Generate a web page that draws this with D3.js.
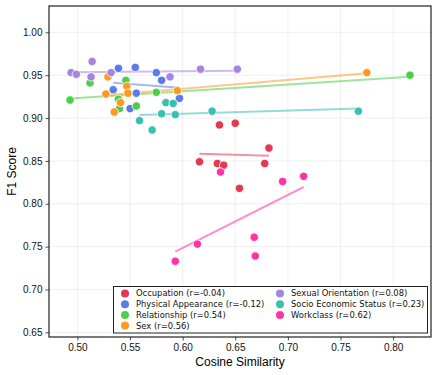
<!DOCTYPE html>
<html>
<head>
<meta charset="utf-8">
<script src="https://cdn.jsdelivr.net/npm/d3@7"></script>
<style>
  body { margin: 0; background: #fff; }
  .tick text { font-family: "Liberation Sans", Arial, sans-serif; font-size: 10px; fill: #111; }
</style>
</head>
<body>
<div id="chart"></div>
<script>
// groups, in legend order
var groups = ["Occupation", "Physical Appearance", "Relationship", "Sex",
              "Sexual Orientation", "Socio Economic Status", "Workclass"];
var rValues = ["-0.04", "-0.12", "0.54", "0.56", "0.08", "0.23", "0.62"];
var colors = ["#e23a52", "#5b7be8", "#4ccf48", "#fe9a20", "#a585e0", "#3bbfb2", "#fd35a4"];

// cosine similarity (x) and F1 (y) per group
var occupationX = [0.635, 0.650, 0.682, 0.616, 0.633, 0.639, 0.678, 0.654];
var occupationY = [0.892, 0.894, 0.865, 0.849, 0.847, 0.845, 0.847, 0.818];
var physicalX = [0.539, 0.555, 0.575, 0.580, 0.534, 0.556, 0.550, 0.597];
var physicalY = [0.958, 0.959, 0.953, 0.944, 0.933, 0.929, 0.911, 0.923];
var relationshipX = [0.493, 0.512, 0.546, 0.539, 0.540, 0.556, 0.575, 0.816];
var relationshipY = [0.921, 0.941, 0.944, 0.922, 0.911, 0.914, 0.930, 0.950];
var sexX = [0.529, 0.527, 0.547, 0.548, 0.541, 0.535, 0.595, 0.775];
var sexY = [0.948, 0.928, 0.937, 0.929, 0.918, 0.907, 0.932, 0.953];
var orientationX = [0.494, 0.499, 0.514, 0.513, 0.532, 0.588, 0.617, 0.652];
var orientationY = [0.953, 0.951, 0.966, 0.948, 0.953, 0.948, 0.957, 0.957];
var socioX = [0.559, 0.571, 0.580, 0.593, 0.584, 0.591, 0.628, 0.767];
var socioY = [0.897, 0.886, 0.905, 0.904, 0.918, 0.917, 0.908, 0.908];
var workclassX = [0.636, 0.695, 0.715, 0.614, 0.593, 0.668, 0.669];
var workclassY = [0.837, 0.826, 0.832, 0.753, 0.733, 0.761, 0.739];

var allX = [occupationX, physicalX, relationshipX, sexX, orientationX, socioX, workclassX];
var allY = [occupationY, physicalY, relationshipY, sexY, orientationY, socioY, workclassY];

var xTicks = [0.50, 0.55, 0.60, 0.65, 0.70, 0.75, 0.80];
var yTicks = [0.65, 0.70, 0.75, 0.80, 0.85, 0.90, 0.95, 1.00];

var W = 438, H = 375;
var margin = {left: 49, right: 7, top: 6, bottom: 38};
var width = W - margin.left - margin.right,
    height = H - margin.top - margin.bottom;

var svg = d3.select("#chart").append("svg")
    .attr("width", W).attr("height", H);
var g = svg.append("g")
    .attr("transform", "translate(" + margin.left + "," + margin.top + ")");

var x = d3.scaleLinear().domain([0.473, 0.836]).range([0, width]);
var y = d3.scaleLinear().domain([0.6446, 1.0307]).range([height, 0]);

// grid
g.append("g").selectAll("line").data(xTicks).enter().append("line")
    .attr("x1", d => x(d)).attr("x2", d => x(d))
    .attr("y1", 0).attr("y2", height)
    .attr("stroke", "#ebebeb").attr("stroke-width", 0.8);
g.append("g").selectAll("line").data(yTicks).enter().append("line")
    .attr("y1", d => y(d)).attr("y2", d => y(d))
    .attr("x1", 0).attr("x2", width)
    .attr("stroke", "#ebebeb").attr("stroke-width", 0.8);

// axes
var xAxis = g.append("g")
    .attr("transform", "translate(0," + height + ")")
    .call(d3.axisBottom(x).tickValues(xTicks).tickFormat(d3.format(".2f")).tickSize(3.5).tickPadding(3));
var yAxis = g.append("g")
    .call(d3.axisLeft(y).tickValues(yTicks).tickFormat(d3.format(".2f")).tickSize(3.5).tickPadding(3));
xAxis.select(".domain").remove();
yAxis.select(".domain").remove();
svg.selectAll(".tick line").attr("stroke", "#222").attr("stroke-width", 0.8);

// regression lines (least squares over each group's x range)
function fit(xs, ys) {
    var mx = d3.mean(xs), my = d3.mean(ys);
    var sxy = d3.sum(xs, (v, i) => (v - mx) * (ys[i] - my));
    var sxx = d3.sum(xs, v => (v - mx) * (v - mx));
    var b = sxy / sxx, a = my - b * mx;
    var x0 = d3.min(xs), x1 = d3.max(xs);
    return [[x0, a + b * x0], [x1, a + b * x1]];
}

groups.forEach(function (name, i) {
    var seg = fit(allX[i], allY[i]);
    g.append("line")
        .attr("x1", x(seg[0][0])).attr("y1", y(seg[0][1]))
        .attr("x2", x(seg[1][0])).attr("y2", y(seg[1][1]))
        .attr("stroke", colors[i]).attr("stroke-opacity", 0.55)
        .attr("stroke-width", 2);
});

// points
groups.forEach(function (name, i) {
    g.append("g").selectAll("circle")
        .data(allX[i].map((v, k) => [v, allY[i][k]]))
        .enter().append("circle")
        .attr("cx", d => x(d[0])).attr("cy", d => y(d[1]))
        .attr("r", 4.2)
        .attr("fill", colors[i])
        .attr("stroke", "#fff").attr("stroke-width", 0.8);
});

// frame
g.append("rect")
    .attr("width", width).attr("height", height)
    .attr("fill", "none").attr("stroke", "#222").attr("stroke-width", 1.2);

// legend
var lg = g.append("g").attr("transform", "translate(" + (113.5 - margin.left) + "," + (286.5 - margin.top) + ")");
lg.append("rect").attr("width", 314).attr("height", 46.5)
    .attr("fill", "#fff").attr("stroke", "#222").attr("stroke-width", 1);
groups.forEach(function (name, i) {
    var col = i < 4 ? 0 : 1, row = i < 4 ? i : i - 4;
    var item = lg.append("g")
        .attr("transform", "translate(" + (col ? 166.5 : 11.5) + "," + (7 + row * 10.7) + ")");
    item.append("circle").attr("r", 4).attr("fill", colors[i]);
    item.append("text").attr("x", 11).attr("dy", "0.35em")
        .style("font-family", "'DejaVu Sans', sans-serif").style("font-size", "8.4px")
        .attr("fill", "#111")
        .text(name + " (r=" + rValues[i] + ")");
});

// axis titles
svg.append("text")
    .attr("x", margin.left + width / 2).attr("y", 366)
    .attr("text-anchor", "middle")
    .style("font-family", "'Liberation Sans', Arial, sans-serif").style("font-size", "12px")
    .text("Cosine Similarity");
svg.append("text")
    .attr("transform", "translate(16," + (margin.top + height / 2) + ") rotate(-90)")
    .attr("text-anchor", "middle")
    .style("font-family", "'Liberation Sans', Arial, sans-serif").style("font-size", "12px")
    .text("F1 Score");
</script>
</body>
</html>
